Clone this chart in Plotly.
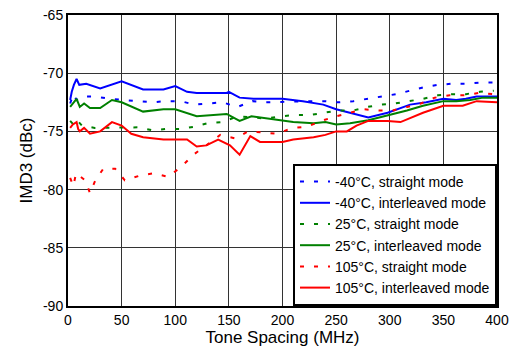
import plotly.graph_objects as go

x_m40_int = [2, 3.5, 5.5, 8, 10.5, 17, 30, 50, 70, 89, 100, 111, 120, 148, 150, 160, 173, 188, 200, 219, 238, 250, 263, 280, 298, 319, 334, 350, 362, 371, 381, 400]
y_m40_int = [-72.3, -71.6, -71.0, -70.5, -71.0, -70.9, -71.3, -70.7, -71.4, -71.4, -71.1, -71.6, -71.7, -71.7, -71.6, -72.1, -72.2, -72.2, -72.2, -72.4, -72.7, -73.1, -73.4, -73.8, -73.4, -72.7, -72.5, -72.2, -72.3, -72.2, -72.0, -72.0]

x_m40_str = [2, 5, 8, 13, 25, 39, 65, 79, 91, 105, 118, 132, 144, 158, 172, 184, 199, 213, 226, 239, 252, 266, 279, 293, 306, 319, 332, 345, 358, 371, 385, 400]
y_m40_str = [-72.6, -71.8, -72.3, -72.0, -72.0, -72.2, -72.4, -72.5, -72.4, -72.4, -72.7, -72.6, -72.5, -72.9, -72.4, -72.5, -72.45, -72.45, -72.4, -72.4, -72.5, -72.4, -72.2, -72.0, -71.8, -71.5, -71.2, -71.0, -70.9, -70.9, -70.8, -70.8]

x_25_int = [2, 4.5, 8, 11, 15, 20.5, 30, 41, 50, 70, 89, 100, 120, 148, 160, 171, 185, 200, 210, 229, 240, 250, 263, 280, 300, 316, 331, 350, 362, 375, 387, 400]
y_25_int = [-72.9, -72.6, -72.2, -72.9, -72.6, -73.0, -73.0, -72.3, -72.5, -73.3, -73.1, -73.1, -73.7, -73.5, -74.1, -73.7, -73.9, -74.05, -74.2, -74.3, -74.2, -74.4, -74.3, -74.05, -73.6, -73.2, -72.8, -72.4, -72.4, -72.3, -72.1, -72.1]

x_25_str = [2, 5, 8, 13, 25, 40, 65, 79, 91, 104, 118, 130, 144, 158, 171, 185, 198, 211, 225, 238, 252, 266, 279, 292, 305, 318, 331, 345, 358, 371, 384, 397]
y_25_str = [-74.1, -74.4, -74.0, -74.5, -74.7, -74.7, -74.65, -74.9, -74.8, -74.8, -74.6, -74.3, -74.2, -73.7, -73.8, -73.9, -73.7, -73.6, -73.6, -73.4, -73.2, -73.2, -72.9, -72.7, -72.6, -72.4, -72.2, -71.9, -71.8, -71.8, -71.6, -71.5]

x_105_int = [2, 4.5, 8, 9.5, 11, 15, 20.5, 30, 41, 50, 59, 70, 89, 100, 111, 120, 129, 140, 151, 160, 170, 179, 188, 200, 210, 229, 240, 250, 260, 269, 280, 298, 310, 331, 350, 368, 381, 400]
y_105_int = [-74.7, -74.4, -74.2, -74.8, -75.0, -74.7, -75.2, -75.0, -74.2, -74.5, -75.2, -75.5, -75.7, -75.7, -75.7, -76.3, -76.2, -75.7, -76.2, -77.0, -75.4, -75.9, -75.9, -75.9, -75.7, -75.5, -75.3, -75.0, -75.0, -74.5, -74.1, -74.1, -74.2, -73.4, -72.8, -72.8, -72.4, -72.5]

x_105_str = [2, 5, 7.5, 10, 16, 20.5, 25.5, 33, 44, 53, 67, 80, 93, 105, 117, 129, 142, 156, 168, 182, 195, 209, 223, 236, 250, 263, 276, 290, 303, 316, 329, 342, 356, 370, 383, 396]
y_105_str = [-79.0, -79.7, -78.6, -78.8, -79.2, -80.3, -79.2, -78.2, -78.2, -79.2, -78.8, -78.6, -78.9, -78.1, -77.0, -76.2, -75.3, -75.6, -75.0, -75.1, -75.2, -74.7, -74.6, -74.1, -73.7, -73.4, -73.1, -73.2, -73.2, -72.9, -72.6, -72.1, -71.9, -71.9, -71.7, -71.8]

x_ticks = [0, 50, 100, 150, 200, 250, 300, 350, 400]
y_ticks = [-90, -85, -80, -75, -70, -65]
y_tick_text = ["-90", "-85", "-80", "-75", "-70", "-65"]

series = [
    ("-40°C, straight mode", x_m40_str, y_m40_str, "#0000ff", "4px,10px"),
    ("-40°C, interleaved mode", x_m40_int, y_m40_int, "#0000ff", "solid"),
    ("25°C, straight mode", x_25_str, y_25_str, "#008000", "4px,10px"),
    ("25°C, interleaved mode", x_25_int, y_25_int, "#008000", "solid"),
    ("105°C, straight mode", x_105_str, y_105_str, "#ff0000", "4px,10px"),
    ("105°C, interleaved mode", x_105_int, y_105_int, "#ff0000", "solid"),
]

fig = go.Figure()
for name, xs, ys, col, dash in series:
    fig.add_trace(go.Scatter(x=xs, y=ys, mode="lines", name=name,
                             line=dict(color=col, width=2, dash=dash)))

font = "Liberation Sans, Arial, sans-serif"
fig.update_layout(
    width=509, height=350,
    margin=dict(l=68, r=12, t=15, b=44),
    paper_bgcolor="white", plot_bgcolor="white",
    font=dict(family=font, size=14, color="black"),
    showlegend=True,
    legend=dict(x=1, y=0, xanchor="right", yanchor="bottom",
                bgcolor="white", bordercolor="black", borderwidth=2,
                font=dict(size=14), itemwidth=30, tracegroupgap=0),
    xaxis=dict(range=[0, 400], tickvals=x_ticks, showgrid=True, gridcolor="#333333", gridwidth=1,
               showline=True, linecolor="black", linewidth=2, mirror=True, ticks="",
               zeroline=False, automargin=False,
               title=dict(text="Tone Spacing (MHz)", standoff=2)),
    yaxis=dict(range=[-90, -65], tickvals=y_ticks, ticktext=y_tick_text, showgrid=True,
               gridcolor="#333333", gridwidth=1,
               showline=True, linecolor="black", linewidth=2, mirror=True, ticks="",
               zeroline=False, automargin=False,
               title=dict(text="IMD3 (dBc)", standoff=6)),
)
fig.write_html("out.html", config={"displayModeBar": False},
               post_script="document.body.style.margin='0';")
